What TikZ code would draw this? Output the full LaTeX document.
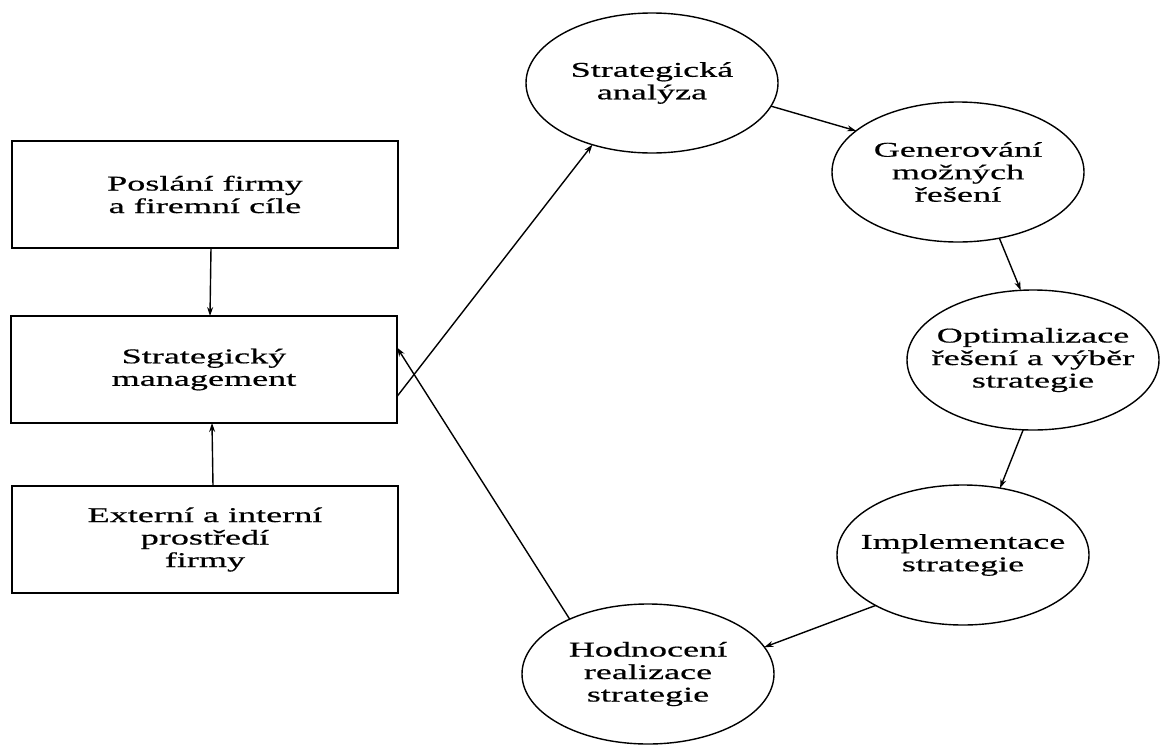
\documentclass[tikz,border=0pt]{standalone}
\usepackage{fontspec}
\setmainfont[FakeStretch=1.72,FakeBold=0.5]{Liberation Serif}
\usetikzlibrary{arrows.meta,shapes.geometric}
\begin{document}
\begin{tikzpicture}[x=1pt,y=-1pt,
  every node/.style={font=\fontsize{21}{22.5}\selectfont, align=center, outer sep=0pt, inner sep=0pt},
  boxnode/.style={draw, line width=1.4pt, minimum width=386pt, minimum height=107pt},
  ellnode/.style={draw, ellipse, line width=1.4pt, minimum width=252pt, minimum height=140pt, inner xsep=-50pt, inner ysep=0pt},
  conn/.style={line width=1.4pt, -{Stealth[length=9pt,width=6pt]}}
]
\useasboundingbox (0,0) rectangle (1160,745);
\fill[white] (0,0) rectangle (1160,745);

\node[boxnode] (b1) at (205,194.5) {Poslání firmy\\a firemní cíle};
\node[boxnode] (b2) at (204,369.5) {Strategický\\management};
\node[boxnode] (b3) at (205,539.5) {Externí a interní\\prostředí\\firmy};

\node[ellnode] (sa) at (652,83) {Strategická\\analýza};
\node[ellnode] (gen) at (958,172) {Generování\\možných\\řešení};
\node[ellnode] (opt) at (1033,360) {Optimalizace\\řešení a výběr\\strategie};
\node[ellnode] (imp) at (963,555) {Implementace\\strategie};
\node[ellnode] (hod) at (648,674) {Hodnocení\\realizace\\strategie};

\draw[conn] ([xshift=6pt]b1.south) -- ([xshift=6pt]b2.north);
\draw[conn] ([xshift=8pt]b3.north) -- ([xshift=8pt]b2.south);
\draw[conn] ([yshift=-27pt]b2.east) -- (sa.226);
\draw[conn] (hod.145) -- ([yshift=22pt]b2.east);
\draw[conn] (sa.-11) -- (gen.158);
\draw[conn] (gen.-58) -- (opt.100);
\draw[conn] (opt.-98) -- (imp.61);
\draw[conn] (imp.210) -- (hod.13);
\end{tikzpicture}
\end{document}
